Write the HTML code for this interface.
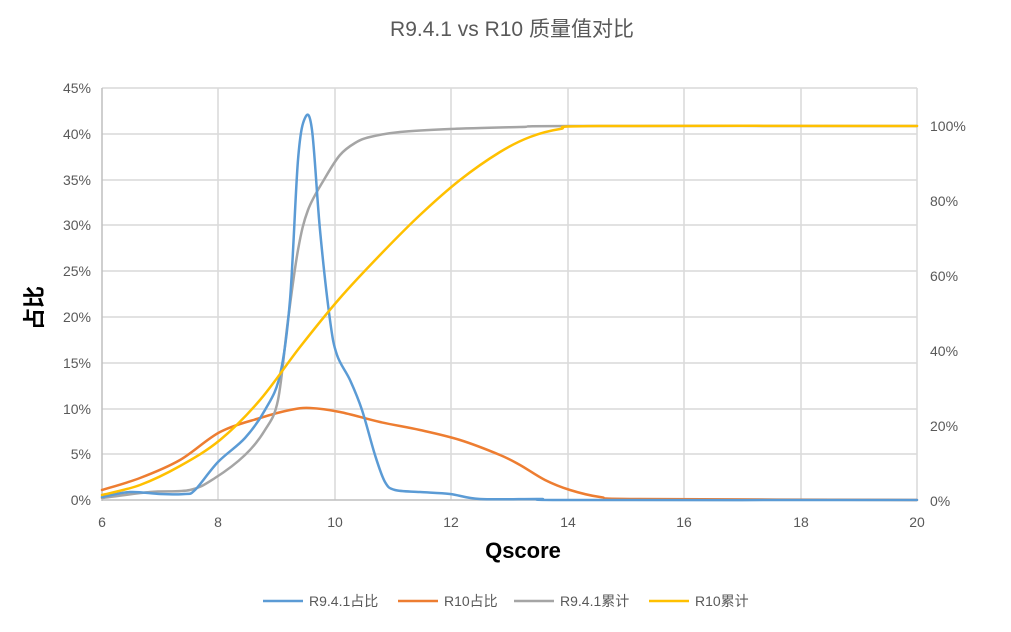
<!DOCTYPE html><html><head><meta charset="utf-8"><style>body{margin:0;background:#fff}</style></head><body>
<svg width="1011" height="627" xmlns="http://www.w3.org/2000/svg" font-family="Liberation Sans, Noto Sans CJK SC, sans-serif">
<rect width="1011" height="627" fill="#fff"/>
<text x="512" y="36" text-anchor="middle" font-size="21" fill="#595959">R9.4.1 vs R10 质量值对比</text>
<g stroke="#d9d9d9" stroke-width="1.5">
<line x1="102" x2="917" y1="88" y2="88"/><line x1="102" x2="917" y1="134" y2="134"/><line x1="102" x2="917" y1="180" y2="180"/><line x1="102" x2="917" y1="225" y2="225"/><line x1="102" x2="917" y1="271" y2="271"/><line x1="102" x2="917" y1="317" y2="317"/><line x1="102" x2="917" y1="363" y2="363"/><line x1="102" x2="917" y1="409" y2="409"/><line x1="102" x2="917" y1="454" y2="454"/>
<line x1="218" x2="218" y1="88" y2="500"/><line x1="335" x2="335" y1="88" y2="500"/><line x1="451" x2="451" y1="88" y2="500"/><line x1="568" x2="568" y1="88" y2="500"/><line x1="684" x2="684" y1="88" y2="500"/><line x1="801" x2="801" y1="88" y2="500"/><line x1="917" x2="917" y1="88" y2="500"/>
</g>
<line x1="102" x2="102" y1="88" y2="501" stroke="#bfbfbf" stroke-width="1.5"/>
<line x1="102" x2="917" y1="500" y2="500" stroke="#bfbfbf" stroke-width="1.5"/>
<g font-size="14" fill="#595959" text-anchor="end">
<text x="91" y="93">45%</text><text x="91" y="139">40%</text><text x="91" y="185">35%</text><text x="91" y="230">30%</text><text x="91" y="276">25%</text><text x="91" y="322">20%</text><text x="91" y="368">15%</text><text x="91" y="414">10%</text><text x="91" y="459">5%</text><text x="91" y="505">0%</text>
</g>
<g font-size="14" fill="#595959">
<text x="930" y="131">100%</text><text x="930" y="206">80%</text><text x="930" y="281">60%</text><text x="930" y="356">40%</text><text x="930" y="431">20%</text><text x="930" y="506">0%</text>
</g>
<g font-size="14" fill="#595959" text-anchor="middle">
<text x="102" y="527">6</text><text x="218" y="527">8</text><text x="335" y="527">10</text><text x="451" y="527">12</text><text x="568" y="527">14</text><text x="684" y="527">16</text><text x="801" y="527">18</text><text x="917" y="527">20</text>
</g>
<text x="523" y="558" text-anchor="middle" font-size="22" font-weight="bold" fill="#000">Qscore</text>
<text transform="translate(42,308) rotate(-90)" text-anchor="middle" font-size="22" font-weight="bold" fill="#000">占比</text>
<g fill="none" stroke-width="2.5" stroke-linejoin="round" stroke-linecap="round">
<path id="o" stroke="#ed7d31" data-p="102,490 140,478 180,460 220,432 260,418 290,410 310,408 340,412 380,422 420,430 460,440 500,455 520,465 545,480 570,490 600,497 640,499 917,500"/>
<path id="g" stroke="#a5a5a5" data-p="102,498 150,492 190,490 215,478 245,455 265,430 278,400 288,320 298,250 308,210 325,178 340,155 355,143 370,137 400,132 450,129 520,127 570,126 917,126"/>
<path id="b" stroke="#5b9bd5" data-p="102,497 130,492 160,494 185,494 195,490 218,462 245,438 265,410 280,375 290,300 298,160 305,118 312,130 320,230 330,320 337,355 350,380 362,410 375,455 385,482 395,490 420,492 450,494 480,499 540,499 570,500 917,500"/>
<path id="y" stroke="#ffc000" data-p="102,495 140,485 180,466 220,440 260,400 300,347 340,298 380,255 420,215 460,180 500,152 530,137 560,129 600,126 917,126"/>
</g>
<g font-size="14" fill="#595959">
<line x1="263" x2="303" y1="601" y2="601" stroke="#5b9bd5" stroke-width="2.5"/><text x="309" y="606">R9.4.1占比</text>
<line x1="398" x2="438" y1="601" y2="601" stroke="#ed7d31" stroke-width="2.5"/><text x="444" y="606">R10占比</text>
<line x1="514" x2="554" y1="601" y2="601" stroke="#a5a5a5" stroke-width="2.5"/><text x="560" y="606">R9.4.1累计</text>
<line x1="649" x2="689" y1="601" y2="601" stroke="#ffc000" stroke-width="2.5"/><text x="695" y="606">R10累计</text>
</g>
</svg>
<script>
document.querySelectorAll('path[data-p]').forEach(function(el){
var p=el.getAttribute('data-p').split(' ').map(function(s){return s.split(',').map(Number);});
var d='M'+p[0][0]+','+p[0][1];
for(var i=0;i<p.length-1;i++){
var p0=p[i>0?i-1:0],p1=p[i],p2=p[i+1],p3=p[i+2<p.length?i+2:i+1];
var c1x=p1[0]+(p2[0]-p0[0])/6,c1y=p1[1]+(p2[1]-p0[1])/6;
var c2x=p2[0]-(p3[0]-p1[0])/6,c2y=p2[1]-(p3[1]-p1[1])/6;
d+=' C'+c1x+','+c1y+' '+c2x+','+c2y+' '+p2[0]+','+p2[1];}
el.setAttribute('d',d);el.removeAttribute('data-p');});
</script>
</body></html>
